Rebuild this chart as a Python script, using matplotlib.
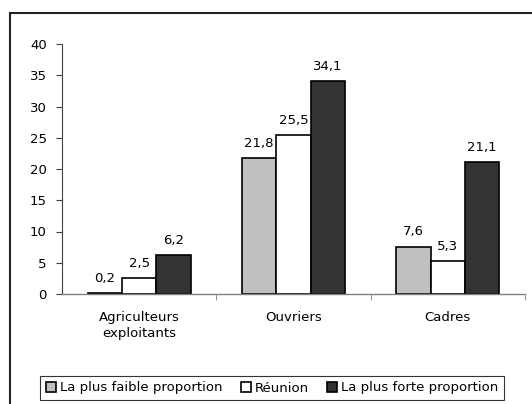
import matplotlib
matplotlib.use("Agg")
import matplotlib.pyplot as plt
import matplotlib.patches as mpatches
import numpy as np

plt.rcParams['font.family'] = ['DejaVu Sans']
plt.rcParams['font.size'] = 9.5

categories = ["Agriculteurs\nexploitants", "Ouvriers", "Cadres"]
series_names = ["La plus faible proportion", "Réunion", "La plus forte proportion"]
faible = [0.2, 21.8, 7.6]
reunion = [2.5, 25.5, 5.3]
forte = [6.2, 34.1, 21.1]
yticks = [0, 5, 10, 15, 20, 25, 30, 35, 40]
colors = ["#C0C0C0", "#FFFFFF", "#333333"]

fig = plt.figure(figsize=(5.32, 4.04), dpi=100)
ax = fig.add_axes([62/532, 1-294/404, (525-62)/532, (294-44)/404])

x = np.arange(len(categories))
w = 1/4.5
for i, (vals, c, name) in enumerate(zip([faible, reunion, forte], colors, series_names)):
    pos = x + (i-1)*w
    ax.bar(pos, vals, width=w, color=c, edgecolor="black", linewidth=1.2, label=name)
    for p, v in zip(pos, vals):
        ax.annotate(f"{v:.1f}".replace(".", ","), (p, v), xytext=(0, 8),
                    textcoords="offset points", ha="center", va="baseline")

ax.set_xlim(-0.5, len(categories)-0.5)
ax.set_ylim(0, 40)
ax.set_yticks(yticks)
ax.set_yticklabels([str(t) for t in yticks])
ax.set_xticks(x)
ax.set_xticklabels(categories, linespacing=1.35)
ax.tick_params(axis='x', length=0, pad=12)
ax.set_xticks([0.5, 1.5, 2.5], minor=True)
ax.tick_params(axis='x', which='minor', length=4, color="#808080", direction='out')
ax.tick_params(axis='y', length=4, color="#404040", direction='out', pad=7)
for s in ['top', 'right']:
    ax.spines[s].set_visible(False)
ax.spines['left'].set_color("#404040")
ax.spines['bottom'].set_color("#808080")
ax.spines['left'].set_linewidth(0.8)
ax.spines['bottom'].set_linewidth(1.0)

leg = fig.legend(loc='center', bbox_to_anchor=(272/532, 1-388/404), ncol=3,
                 frameon=True, fancybox=False, edgecolor='black',
                 handlelength=0.75, handleheight=0.75, handletextpad=0.3,
                 columnspacing=1.4, borderpad=0.45, borderaxespad=0)
leg.get_frame().set_linewidth(0.8)

frame = mpatches.Rectangle((10/532, -0.05), 1.1, 1-13/404+0.05, transform=fig.transFigure,
                           fill=False, edgecolor="#222222", linewidth=1.5, clip_on=False)
fig.patches.append(frame)

fig.savefig("out.png", dpi=100)
